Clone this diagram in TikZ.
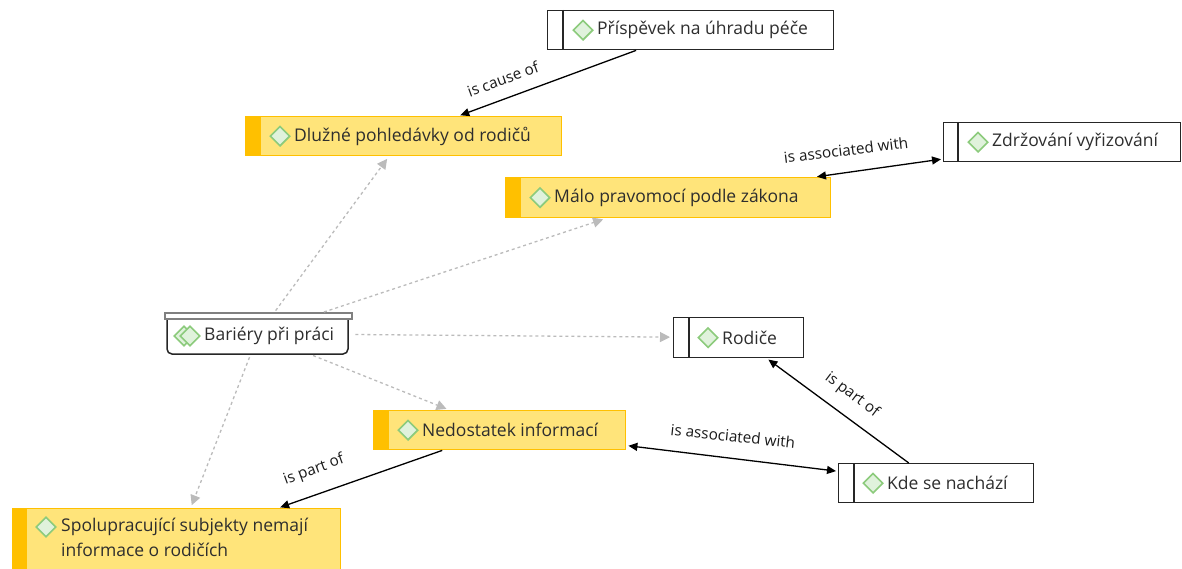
\documentclass[tikz,border=0pt]{standalone}
\usepackage{fontspec}
\setmainfont{Open Sans}
\usetikzlibrary{arrows.meta,shapes.geometric,calc}
\definecolor{ytxt}{HTML}{2E2E2E}
\definecolor{yfill}{HTML}{FFE47A}
\definecolor{yedge}{HTML}{FFC000}
\definecolor{dgreen}{HTML}{8CCB7C}
\definecolor{lgreen}{HTML}{E0F2DC}
\definecolor{dashgray}{HTML}{BBBBBB}
\begin{document}
\begin{tikzpicture}[x=1pt,y=-1pt,
  wbox/.style={draw=black!85, line width=1.4pt, fill=white, inner sep=0pt, anchor=north west},
  ybox/.style={draw=yedge, line width=1.4pt, fill=yfill, inner sep=0pt, anchor=north west},
  gem/.style={diamond, draw=dgreen, fill=lgreen, line width=1.6pt, minimum width=20pt, minimum height=20pt, inner sep=0pt},
  conc/.style={anchor=west, inner sep=0pt, text=ytxt, font=\fontsize{17.5}{25}\selectfont},
  rel/.style={draw=black, line width=1.3pt, -{Triangle[length=9pt,width=8pt]}, shorten >=2pt},
  relb/.style={draw=black, line width=1.3pt, {Triangle[length=9pt,width=8pt]}-{Triangle[length=9pt,width=8pt]}, shorten >=2pt, shorten <=2pt},
  dep/.style={draw=dashgray, line width=1.3pt, dash pattern=on 3pt off 3pt, -{Triangle[length=10pt,width=10pt]}, shorten >=3pt, shorten <=3pt},
  elbl/.style={font=\fontsize{15.3}{17}\selectfont, text=black!90, inner sep=0pt}]
\useasboundingbox (0,0) rectangle (1182,569);

% ---- Příspěvek
\node[wbox, minimum width=286pt, minimum height=39pt] (pris) at (547,10) {};
\draw[line width=1.4pt, black!85] ([xshift=16pt]pris.north west) -- ([xshift=16pt]pris.south west);
\node[gem] (prisg) at ([xshift=36pt]pris.west) {};
\node[conc] (prist) at ([xshift=14pt]prisg.center) {Příspěvek na úhradu péče};

% ---- Dlužné
\node[ybox, minimum width=316pt, minimum height=39pt] (dluz) at (245,116) {};
\fill[yedge] (dluz.north west) rectangle ([xshift=16pt]dluz.south west);
\node[gem] (dluzg) at ([xshift=35pt]dluz.west) {};
\node[conc] (dluzt) at ([xshift=14pt]dluzg.center) {Dlužné pohledávky od rodičů};

% ---- Zdržování
\node[wbox, minimum width=237pt, minimum height=39pt] (zdrz) at (943,122) {};
\draw[line width=1.4pt, black!85] ([xshift=15pt]zdrz.north west) -- ([xshift=15pt]zdrz.south west);
\node[gem] (zdrzg) at ([xshift=35pt]zdrz.west) {};
\node[conc] (zdrzt) at ([xshift=14pt]zdrzg.center) {Zdržování vyřizování};

% ---- Málo
\node[ybox, minimum width=325pt, minimum height=40pt] (malo) at (505,177) {};
\fill[yedge] (malo.north west) rectangle ([xshift=16pt]malo.south west);
\node[gem] (malog) at ([xshift=35pt]malo.west) {};
\node[conc] (malot) at ([xshift=14pt]malog.center) {Málo pravomocí podle zákona};

% ---- Bariéry
\node[minimum width=187pt, minimum height=41pt, inner sep=0pt, anchor=north west] (bar) at (165,313) {};
\draw[line width=1.5pt, black!85, fill=white, rounded corners=5pt] (167,318) -- (167,354) -- (348,354) -- (348,318);
\draw[line width=1.3pt, draw=black!50, fill=white] (165,313) rectangle (352,319);
\node[gem] (barg1) at (184,336) {};
\node[gem] (barg2) at (190,336) {};
\node[conc] (bart) at (204,336) {Bariéry při práci};

% ---- Rodiče
\node[wbox, minimum width=130pt, minimum height=40pt] (rod) at (673,317) {};
\draw[line width=1.4pt, black!85] ([xshift=16pt]rod.north west) -- ([xshift=16pt]rod.south west);
\node[gem] (rodg) at ([xshift=35pt]rod.west) {};
\node[conc] (rodt) at ([xshift=14pt]rodg.center) {Rodiče};

% ---- Nedostatek
\node[ybox, minimum width=252pt, minimum height=39pt] (ned) at (373,410) {};
\fill[yedge] (ned.north west) rectangle ([xshift=16pt]ned.south west);
\node[gem] (nedg) at ([xshift=35pt]ned.west) {};
\node[conc] (nedt) at ([xshift=14pt]nedg.center) {Nedostatek informací};

% ---- Kde se nachází
\node[wbox, minimum width=195pt, minimum height=39pt] (kde) at (838,463) {};
\draw[line width=1.4pt, black!85] ([xshift=16pt]kde.north west) -- ([xshift=16pt]kde.south west);
\node[gem] (kdeg) at ([xshift=35pt]kde.west) {};
\node[conc] (kdet) at ([xshift=14pt]kdeg.center) {Kde se nachází};

% ---- Spolupracující
\node[ybox, minimum width=328pt, minimum height=70pt] (spol) at (12,508) {};
\fill[yedge] (spol.north west) rectangle ([xshift=15pt]spol.south west);
\node[gem] (spolg) at (46,527) {};
\node[conc, align=left, anchor=north west] (spolt) at (61,518) {Spolupracující subjekty nemají\\informace o rodičích};

% ---- dependencies (gray dashed)
\draw[dep] (bar) -- (dluz);
\draw[dep] (bar) -- (malo);
\draw[dep] (bar) -- (rod);
\draw[dep] (bar) -- (ned);
\draw[dep] (bar) -- (spol);

% ---- relations
\draw[rel] (pris) -- (dluz);
\draw[relb] (malo) -- (zdrz);
\draw[rel] (kde) -- (rod);
\draw[relb] (ned) -- (kde);
\draw[rel] (ned) -- (spol);

% ---- relation labels
\node[elbl, rotate=20] (l1) at (503,79) {is cause of};
\node[elbl, rotate=7] (l2) at (846,150) {is associated with};
\node[elbl, rotate=-37] (l3) at (852,395) {is part of};
\node[elbl, rotate=-6] (l4) at (733,436) {is associated with};
\node[elbl, rotate=20] (l5) at (314,470) {is part of};
\end{tikzpicture}
\end{document}
